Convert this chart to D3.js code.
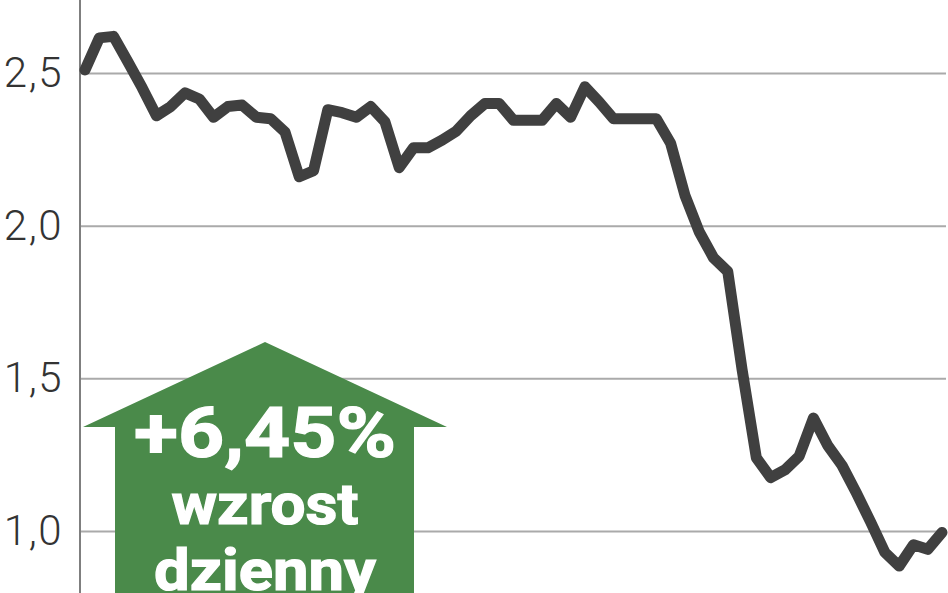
<!DOCTYPE html>
<html lang="pl">
  <head>
    <meta charset="UTF-8" />
    <title>Kurs akcji</title>
    <script src="https://d3js.org/d3.v7.min.js"></script>
    <style>
      body { margin: 0; background: #fff; }
    </style>
  </head>
  <body>
    <svg width="948" height="593"></svg>

    <script>
      // Notowania (kolejne sesje)
      const prices = [
        2.51, 2.615, 2.62, 2.537, 2.452, 2.36, 2.39, 2.435, 2.415, 2.355,
        2.39, 2.395, 2.355, 2.35, 2.307, 2.16, 2.18, 2.38, 2.37, 2.355,
        2.39, 2.34, 2.19, 2.255, 2.255, 2.28, 2.31, 2.36, 2.40, 2.40,
        2.345, 2.345, 2.345, 2.40, 2.355, 2.455, 2.405, 2.35, 2.35, 2.35,
        2.35, 2.27, 2.10, 1.98, 1.895, 1.85, 1.53, 1.24, 1.175, 1.20,
        1.245, 1.37, 1.28, 1.215, 1.125, 1.03, 0.93, 0.885, 0.955, 0.94,
        0.995,
      ];
      const yTicks = [1.0, 1.5, 2.0, 2.5];
      const badgeLines = ['+6,45%', 'wzrost', 'dzienny'];

      const svg = d3.select('svg'),
        width = +svg.attr('width'),
        height = +svg.attr('height');

      const x = d3.scaleLinear().domain([0, prices.length - 1]).range([85, 942]);
      const y = d3.scaleLinear().domain([1.0, 2.5]).range([531, 73]);

      // Gridlines + tick labels
      const yAxis = d3
        .axisLeft(y)
        .tickValues(yTicks)
        .tickSize(0)
        .tickPadding(17)
        .tickFormat((d) => d3.format('.1f')(d).replace('.', ','));

      const axisG = svg.append('g').attr('transform', 'translate(80,0)').call(yAxis);
      axisG.select('.domain').remove();
      axisG
        .selectAll('.tick text')
        .attr('font-family', 'Roboto, "DejaVu Sans", sans-serif')
        .attr('font-weight', 300)
        .attr('font-size', 42)
        .attr('letter-spacing', 1.5)
        .attr('fill', '#333');
      axisG
        .selectAll('.tick')
        .append('line')
        .attr('x1', 1)
        .attr('x2', 866)
        .attr('stroke', '#aaa')
        .attr('stroke-width', 2);

      // Vertical axis line
      svg
        .append('line')
        .attr('x1', 80)
        .attr('x2', 80)
        .attr('y1', 0)
        .attr('y2', height)
        .attr('stroke', '#555')
        .attr('stroke-width', 1.5);

      // Green arrow badge
      const badge = svg.append('g');
      const ax = 265;
      badge
        .append('path')
        .attr(
          'd',
          d3.line()([
            [ax, 342],
            [447, 427],
            [414, 427],
            [414, height + 5],
            [115, height + 5],
            [115, 427],
            [83, 427],
          ]) + 'Z',
        )
        .attr('fill', '#4a8a4a');

      const textSpecs = [
        { size: 70, base: 457, w: 262 },
        { size: 58, base: 524, w: 187 },
        { size: 58, base: 590, w: 222 },
      ];
      badge
        .selectAll('text')
        .data(badgeLines)
        .enter()
        .append('text')
        .attr('x', ax)
        .attr('y', (d, i) => textSpecs[i].base)
        .attr('text-anchor', 'middle')
        .attr('font-family', 'Roboto, "DejaVu Sans", sans-serif')
        .attr('font-weight', 700)
        .attr('font-size', (d, i) => textSpecs[i].size)
        .attr('textLength', (d, i) => textSpecs[i].w)
        .attr('lengthAdjust', 'spacingAndGlyphs')
        .attr('fill', '#fff')
        .attr('stroke', '#fff')
        .attr('stroke-width', 1.2)
        .text((d) => d);

      // Price line
      const line = d3
        .line()
        .x((d, i) => x(i))
        .y((d) => y(d));

      svg
        .append('path')
        .datum(prices)
        .attr('d', line)
        .attr('fill', 'none')
        .attr('stroke', '#404040')
        .attr('stroke-width', 11)
        .attr('stroke-linejoin', 'round')
        .attr('stroke-linecap', 'round');
    </script>
  </body>
</html>
